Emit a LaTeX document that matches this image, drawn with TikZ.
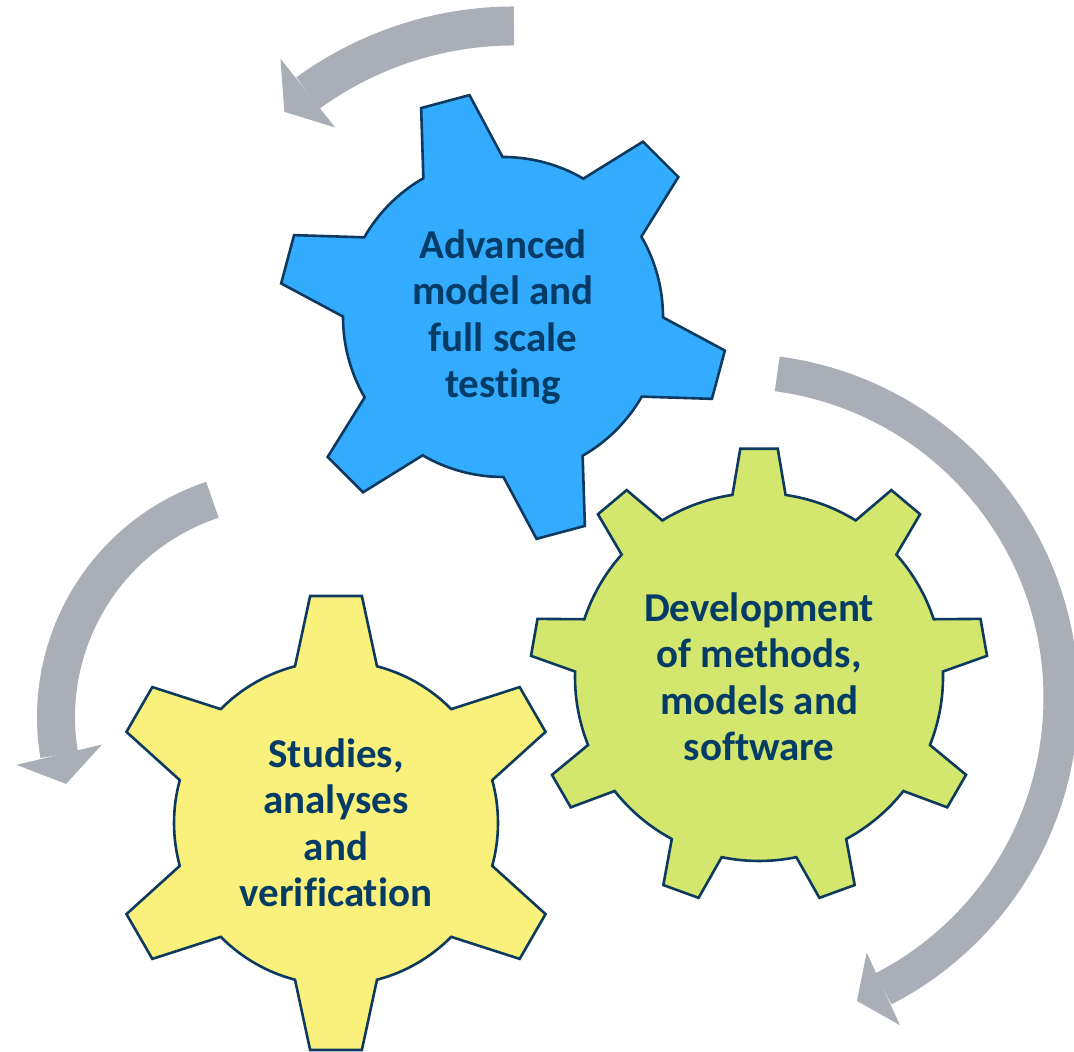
\documentclass[tikz,border=0pt]{standalone}
\usepackage{fontspec}
\setmainfont{Carlito}[Ligatures=CommonOff]
\usepackage{xcolor}
\usetikzlibrary{arrows.meta,bending}

\definecolor{gearblue}{HTML}{33ABFF}
\definecolor{geargreen}{HTML}{D3E66E}
\definecolor{gearyellow}{HTML}{F9F17B}
\definecolor{gearline}{HTML}{0D3A5E}
\definecolor{labelnavy}{HTML}{053C66}
\definecolor{cyclegrey}{HTML}{AAAEB6}

\begin{document}
\begin{tikzpicture}[x=0.5pt, y=0.5pt,
    gear/.style={draw=gearline, line width=1.3pt, line join=miter},
    gearlabel/.style={text=labelnavy, align=center, inner sep=0pt,
        font=\bfseries\fontsize{20.5}{23.25}\selectfont},
    cyclearrow/.style={draw=cyclegrey, line width=19pt,
        -{Triangle[width=44pt, length=15pt, line width=0pt, flex]}}]
    \useasboundingbox (0,0) rectangle (1074,1052);
    \clip (0,0) rectangle (1074,1052);
    % Centres
    \coordinate (blue)   at (503,735);
    \coordinate (green)  at (759,375);
    \coordinate (yellow) at (336,229);
    % Cycle arrows
    \coordinate (topTail)   at (514,1026);
    \coordinate (leftTail)  at (212.4,552.2);
    \coordinate (rightTail) at (777.2,678.1);
    \draw[cyclearrow, line width=19.5pt] (topTail) arc[start angle=90, end angle=131, radius=350];
    \draw[cyclearrow] (leftTail) arc[start angle=108.5, end angle=197, radius=229];
    \draw[cyclearrow, line width=17.5pt, -{Triangle[width=40pt, length=14.5pt, line width=0pt, flex]}]
        (rightTail) arc[start angle=82.4, end angle=-67.9, radius=327];
    % Gears
    % testing gear, 6 teeth
    \draw[gear, fill=gearblue, shift={(blue)}] (30.15:160)
        \foreach \a in {45,105,...,345} { -- (\a-6.4:224.4) -- (\a+6.4:224.4) -- (\a+14.85:160)
        arc[start angle=\a+14.85, end angle=\a+45.15, radius=160] } -- cycle;
    % methods gear, 9 teeth
    \draw[gear, fill=geargreen, shift={(green)}] (1.7:184)
        \foreach \a in {10,50,...,330} { -- (\a-4.7:229) -- (\a+4.7:229) -- (\a+8.3:184)
        arc[start angle=\a+8.3, end angle=\a+31.7, radius=184] } -- cycle;
    % studies gear, 6 teeth
    \draw[gear, fill=gearyellow, shift={(yellow)}] (15.34:162)
        \foreach \a in {30,90,...,330} { -- (\a-6.5:228.5) -- (\a+6.5:228.5) -- (\a+14.66:162)
        arc[start angle=\a+14.66, end angle=\a+45.34, radius=162] } -- cycle;
    % Labels
    \node[gearlabel] (testing) at (blue)   {Advanced\\model and\\full scale\\testing};
    \node[gearlabel] (methods) at (green)  {Development\\of methods,\\models and\\software};
    \node[gearlabel] (studies) at (yellow) {Studies,\\analyses\\and\\verification};
\end{tikzpicture}
\end{document}
